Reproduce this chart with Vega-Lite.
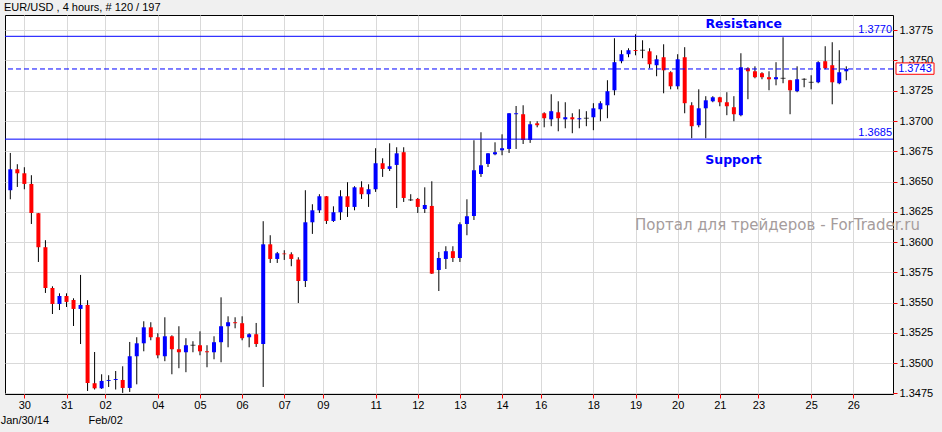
{
  "$schema": "https://vega.github.io/schema/vega-lite/v6.json",
  "width": 888,
  "height": 379,
  "autosize": {"type": "none"},
  "padding": {"left": 5, "top": 15, "right": 49, "bottom": 38},
  "background": "#f0f0f0",
  "title": {"text": "EUR/USD , 4 hours, # 120 / 197", "anchor": "start", "frame": "group", "font": "Liberation Sans", "fontSize": 11, "fontWeight": "normal", "color": "black", "offset": 2, "dx": -1},
  "datasets": {
    "candles": [
      {"i":0,"o":1.36428,"h":1.36736,"l":1.36353,"c":1.36601},
      {"i":1,"o":1.36601,"h":1.36643,"l":1.36455,"c":1.36568},
      {"i":2,"o":1.36568,"h":1.36618,"l":1.36436,"c":1.36480},
      {"i":3,"o":1.36480,"h":1.36552,"l":1.36149,"c":1.36240},
      {"i":4,"o":1.36238,"h":1.36240,"l":1.35835,"c":1.35957},
      {"i":5,"o":1.35957,"h":1.36015,"l":1.35579,"c":1.35620},
      {"i":6,"o":1.35620,"h":1.35634,"l":1.35405,"c":1.35488},
      {"i":7,"o":1.35488,"h":1.35576,"l":1.35438,"c":1.35554},
      {"i":8,"o":1.35554,"h":1.35576,"l":1.35463,"c":1.35505},
      {"i":9,"o":1.35521,"h":1.35535,"l":1.35306,"c":1.35447},
      {"i":10,"o":1.35447,"h":1.35728,"l":1.35157,"c":1.35480},
      {"i":11,"o":1.35480,"h":1.35519,"l":1.34769,"c":1.34835},
      {"i":12,"o":1.34833,"h":1.35091,"l":1.34781,"c":1.34791},
      {"i":13,"o":1.34791,"h":1.34907,"l":1.34786,"c":1.34852},
      {"i":14,"o":1.34852,"h":1.34899,"l":1.34802,"c":1.34860},
      {"i":15,"o":1.34860,"h":1.34934,"l":1.34781,"c":1.34868},
      {"i":16,"o":1.34860,"h":1.34973,"l":1.34753,"c":1.34794},
      {"i":17,"o":1.34794,"h":1.35174,"l":1.34761,"c":1.35056},
      {"i":18,"o":1.35056,"h":1.35213,"l":1.34824,"c":1.35163},
      {"i":19,"o":1.35163,"h":1.35345,"l":1.35097,"c":1.35295},
      {"i":20,"o":1.35295,"h":1.35337,"l":1.35188,"c":1.35213},
      {"i":21,"o":1.35213,"h":1.35246,"l":1.35039,"c":1.35064},
      {"i":22,"o":1.35056,"h":1.35378,"l":1.35015,"c":1.35221},
      {"i":23,"o":1.35221,"h":1.35229,"l":1.34907,"c":1.35114},
      {"i":24,"o":1.35114,"h":1.35304,"l":1.34957,"c":1.35089},
      {"i":25,"o":1.35089,"h":1.35205,"l":1.34924,"c":1.35147},
      {"i":26,"o":1.35147,"h":1.35180,"l":1.35089,"c":1.35147},
      {"i":27,"o":1.35147,"h":1.35262,"l":1.35064,"c":1.35097},
      {"i":28,"o":1.35097,"h":1.35147,"l":1.34965,"c":1.35089},
      {"i":29,"o":1.35089,"h":1.35221,"l":1.35031,"c":1.35172},
      {"i":30,"o":1.35172,"h":1.35543,"l":1.35006,"c":1.35304},
      {"i":31,"o":1.35304,"h":1.35386,"l":1.35130,"c":1.35337},
      {"i":32,"o":1.35337,"h":1.35378,"l":1.35287,"c":1.35329},
      {"i":33,"o":1.35329,"h":1.35386,"l":1.35188,"c":1.35205},
      {"i":34,"o":1.35213,"h":1.35246,"l":1.35130,"c":1.35238},
      {"i":35,"o":1.35238,"h":1.35331,"l":1.35133,"c":1.35157},
      {"i":36,"o":1.35157,"h":1.36172,"l":1.34802,"c":1.35981},
      {"i":37,"o":1.35981,"h":1.36056,"l":1.35827,"c":1.35860},
      {"i":38,"o":1.35860,"h":1.35918,"l":1.35827,"c":1.35907},
      {"i":39,"o":1.35905,"h":1.35932,"l":1.35852,"c":1.35899},
      {"i":40,"o":1.35899,"h":1.35915,"l":1.35800,"c":1.35860},
      {"i":41,"o":1.35855,"h":1.35874,"l":1.35496,"c":1.35678},
      {"i":42,"o":1.35678,"h":1.36428,"l":1.35628,"c":1.36163},
      {"i":43,"o":1.36163,"h":1.36312,"l":1.36067,"c":1.36262},
      {"i":44,"o":1.36262,"h":1.36395,"l":1.36240,"c":1.36378},
      {"i":45,"o":1.36378,"h":1.36380,"l":1.36149,"c":1.36174},
      {"i":46,"o":1.36174,"h":1.36295,"l":1.36166,"c":1.36246},
      {"i":47,"o":1.36246,"h":1.36428,"l":1.36182,"c":1.36378},
      {"i":48,"o":1.36378,"h":1.36494,"l":1.36207,"c":1.36290},
      {"i":49,"o":1.36290,"h":1.36461,"l":1.36262,"c":1.36452},
      {"i":50,"o":1.36452,"h":1.36502,"l":1.36356,"c":1.36395},
      {"i":51,"o":1.36395,"h":1.36477,"l":1.36290,"c":1.36436},
      {"i":52,"o":1.36436,"h":1.36775,"l":1.36414,"c":1.36651},
      {"i":53,"o":1.36651,"h":1.36692,"l":1.36538,"c":1.36604},
      {"i":54,"o":1.36604,"h":1.36816,"l":1.36587,"c":1.36626},
      {"i":55,"o":1.36637,"h":1.36783,"l":1.36281,"c":1.36733},
      {"i":56,"o":1.36742,"h":1.36783,"l":1.36331,"c":1.36364},
      {"i":57,"o":1.36348,"h":1.36395,"l":1.36339,"c":1.36348},
      {"i":58,"o":1.36356,"h":1.36364,"l":1.36240,"c":1.36290},
      {"i":59,"o":1.36273,"h":1.36452,"l":1.36240,"c":1.36306},
      {"i":60,"o":1.36298,"h":1.36502,"l":1.35736,"c":1.35739},
      {"i":61,"o":1.35769,"h":1.35918,"l":1.35595,"c":1.35868},
      {"i":62,"o":1.35860,"h":1.35965,"l":1.35777,"c":1.35924},
      {"i":63,"o":1.35924,"h":1.35965,"l":1.35835,"c":1.35868},
      {"i":64,"o":1.35868,"h":1.36163,"l":1.35835,"c":1.36147},
      {"i":65,"o":1.36149,"h":1.36353,"l":1.36056,"c":1.36213},
      {"i":66,"o":1.36215,"h":1.36841,"l":1.36182,"c":1.36593},
      {"i":67,"o":1.36562,"h":1.36907,"l":1.36538,"c":1.36634},
      {"i":68,"o":1.36645,"h":1.36735,"l":1.36620,"c":1.36733},
      {"i":69,"o":1.36725,"h":1.36824,"l":1.36717,"c":1.36742},
      {"i":70,"o":1.36758,"h":1.36890,"l":1.36717,"c":1.36775},
      {"i":71,"o":1.36769,"h":1.37066,"l":1.36736,"c":1.37064},
      {"i":72,"o":1.37056,"h":1.37124,"l":1.36769,"c":1.37064},
      {"i":73,"o":1.37056,"h":1.37130,"l":1.36810,"c":1.36843},
      {"i":74,"o":1.36843,"h":1.36998,"l":1.36819,"c":1.36973},
      {"i":75,"o":1.36981,"h":1.36998,"l":1.36948,"c":1.36965},
      {"i":76,"o":1.37064,"h":1.37072,"l":1.36948,"c":1.37023},
      {"i":77,"o":1.37014,"h":1.37221,"l":1.36957,"c":1.37081},
      {"i":78,"o":1.37072,"h":1.37163,"l":1.36915,"c":1.37023},
      {"i":79,"o":1.37014,"h":1.37155,"l":1.36940,"c":1.37031},
      {"i":80,"o":1.37031,"h":1.37064,"l":1.36899,"c":1.37014},
      {"i":81,"o":1.37014,"h":1.37097,"l":1.36940,"c":1.37023},
      {"i":82,"o":1.37023,"h":1.37081,"l":1.36957,"c":1.37023},
      {"i":83,"o":1.37031,"h":1.37147,"l":1.36924,"c":1.37105},
      {"i":84,"o":1.37097,"h":1.37163,"l":1.36998,"c":1.37147},
      {"i":85,"o":1.37130,"h":1.37337,"l":1.37023,"c":1.37246},
      {"i":86,"o":1.37254,"h":1.37684,"l":1.37213,"c":1.37486},
      {"i":87,"o":1.37494,"h":1.37585,"l":1.37477,"c":1.37552},
      {"i":88,"o":1.37552,"h":1.37601,"l":1.37527,"c":1.37585},
      {"i":89,"o":1.37587,"h":1.37717,"l":1.37543,"c":1.37579},
      {"i":90,"o":1.37585,"h":1.37667,"l":1.37519,"c":1.37585},
      {"i":91,"o":1.37576,"h":1.37601,"l":1.37436,"c":1.37469},
      {"i":92,"o":1.37461,"h":1.37543,"l":1.37370,"c":1.37510},
      {"i":93,"o":1.37527,"h":1.37634,"l":1.37229,"c":1.37419},
      {"i":94,"o":1.37403,"h":1.37411,"l":1.37262,"c":1.37287},
      {"i":95,"o":1.37287,"h":1.37552,"l":1.37262,"c":1.37510},
      {"i":96,"o":1.37527,"h":1.37610,"l":1.37064,"c":1.37147},
      {"i":97,"o":1.37130,"h":1.37155,"l":1.36857,"c":1.36957},
      {"i":98,"o":1.36965,"h":1.37262,"l":1.36948,"c":1.37105},
      {"i":99,"o":1.37105,"h":1.37205,"l":1.36857,"c":1.37171},
      {"i":100,"o":1.37163,"h":1.37205,"l":1.37155,"c":1.37196},
      {"i":101,"o":1.37196,"h":1.37200,"l":1.37122,"c":1.37155},
      {"i":102,"o":1.37155,"h":1.37238,"l":1.37048,"c":1.37122},
      {"i":103,"o":1.37114,"h":1.37205,"l":1.36998,"c":1.37056},
      {"i":104,"o":1.37048,"h":1.37560,"l":1.37039,"c":1.37444},
      {"i":105,"o":1.37436,"h":1.37444,"l":1.37180,"c":1.37411},
      {"i":106,"o":1.37411,"h":1.37452,"l":1.37353,"c":1.37362},
      {"i":107,"o":1.37395,"h":1.37403,"l":1.37345,"c":1.37362},
      {"i":108,"o":1.37362,"h":1.37411,"l":1.37254,"c":1.37345},
      {"i":109,"o":1.37345,"h":1.37486,"l":1.37295,"c":1.37362},
      {"i":110,"o":1.37353,"h":1.37692,"l":1.37312,"c":1.37353},
      {"i":111,"o":1.37337,"h":1.37340,"l":1.37056,"c":1.37254},
      {"i":112,"o":1.37246,"h":1.37452,"l":1.37238,"c":1.37345},
      {"i":113,"o":1.37345,"h":1.37353,"l":1.37279,"c":1.37345},
      {"i":114,"o":1.37320,"h":1.37378,"l":1.37262,"c":1.37320},
      {"i":115,"o":1.37320,"h":1.37494,"l":1.37312,"c":1.37486},
      {"i":116,"o":1.37494,"h":1.37618,"l":1.37428,"c":1.37436},
      {"i":117,"o":1.37461,"h":1.37651,"l":1.37138,"c":1.37320},
      {"i":118,"o":1.37312,"h":1.37585,"l":1.37304,"c":1.37403},
      {"i":119,"o":1.37411,"h":1.37452,"l":1.37337,"c":1.37430}
    ],
    "levels": [
      {"level": 1.3770, "name": "Resistance"},
      {"level": 1.3685, "name": "Support"}
    ],
    "last": [{"price": 1.3743}]
  },
  "layer": [
    {
      "data": {"name": "candles"},
      "mark": {"type": "rule", "color": "black", "strokeWidth": 1},
      "encoding": {
        "x": {"field": "i", "type": "quantitative",
          "scale": {"domain": [-0.7545, 125.651], "nice": false, "zero": false, "padding": 0},
          "axis": {"title": null, "values": [2, 8, 13.5, 21, 27, 33, 39, 44.5, 52, 58, 64, 70, 75.5, 83, 89, 95, 101, 106.5, 114, 120], "labelExpr": "datum.value == 2 ? ['30', 'Jan/30/14'] : datum.value == 13.5 ? ['02', 'Feb/02'] : ['30','31','02','04','05','06','07','09','11','12','13','14','16','18','19','20','21','23','25','26'][indexof([2, 8, 13.5, 21, 27, 33, 39, 44.5, 52, 58, 64, 70, 75.5, 83, 89, 95, 101, 106.5, 114, 120], datum.value)]", "labelLineHeight": 15, "labelPadding": 1, "labelOverlap": false, "labelFlush": false, "labelBound": false}},
        "y": {"field": "l", "type": "quantitative",
          "scale": {"domain": [1.34744, 1.37876], "nice": false, "zero": false, "padding": 0},
          "axis": {"title": null, "orient": "right", "values": [1.3475, 1.35, 1.3525, 1.355, 1.3575, 1.36, 1.3625, 1.365, 1.3675, 1.37, 1.3725, 1.375, 1.3775], "format": ".4f", "labelPadding": 2, "labelOverlap": false, "labelFlush": false, "labelBound": false}},
        "y2": {"field": "h"}
      }
    },
    {
      "data": {"name": "candles"},
      "mark": {"type": "bar", "width": 4},
      "encoding": {
        "x": {"field": "i", "type": "quantitative",
          "scale": {"domain": [-0.7545, 125.651], "nice": false, "zero": false, "padding": 0},
          "axis": {"title": null, "values": [2, 8, 13.5, 21, 27, 33, 39, 44.5, 52, 58, 64, 70, 75.5, 83, 89, 95, 101, 106.5, 114, 120], "labelExpr": "datum.value == 2 ? ['30', 'Jan/30/14'] : datum.value == 13.5 ? ['02', 'Feb/02'] : ['30','31','02','04','05','06','07','09','11','12','13','14','16','18','19','20','21','23','25','26'][indexof([2, 8, 13.5, 21, 27, 33, 39, 44.5, 52, 58, 64, 70, 75.5, 83, 89, 95, 101, 106.5, 114, 120], datum.value)]", "labelLineHeight": 15, "labelPadding": 1, "labelOverlap": false, "labelFlush": false, "labelBound": false}},
        "y": {"field": "o", "type": "quantitative",
          "scale": {"domain": [1.34744, 1.37876], "nice": false, "zero": false, "padding": 0},
          "axis": {"title": null, "orient": "right", "values": [1.3475, 1.35, 1.3525, 1.355, 1.3575, 1.36, 1.3625, 1.365, 1.3675, 1.37, 1.3725, 1.375, 1.3775], "format": ".4f", "labelPadding": 2, "labelOverlap": false, "labelFlush": false, "labelBound": false}},
        "y2": {"field": "c"},
        "color": {"condition": [{"test": "datum.c > datum.o", "value": "#0000ff"}, {"test": "datum.c < datum.o", "value": "#ff0000"}], "value": "black"}
      }
    },
    {
      "data": {"name": "candles"},
      "transform": [{"filter": "datum.o == datum.c"}],
      "mark": {"type": "tick", "orient": "horizontal", "size": 5, "thickness": 1, "color": "black"},
      "encoding": {
        "x": {"field": "i", "type": "quantitative",
          "scale": {"domain": [-0.7545, 125.651], "nice": false, "zero": false, "padding": 0},
          "axis": {"title": null, "values": [2, 8, 13.5, 21, 27, 33, 39, 44.5, 52, 58, 64, 70, 75.5, 83, 89, 95, 101, 106.5, 114, 120], "labelExpr": "datum.value == 2 ? ['30', 'Jan/30/14'] : datum.value == 13.5 ? ['02', 'Feb/02'] : ['30','31','02','04','05','06','07','09','11','12','13','14','16','18','19','20','21','23','25','26'][indexof([2, 8, 13.5, 21, 27, 33, 39, 44.5, 52, 58, 64, 70, 75.5, 83, 89, 95, 101, 106.5, 114, 120], datum.value)]", "labelLineHeight": 15, "labelPadding": 1, "labelOverlap": false, "labelFlush": false, "labelBound": false}},
        "y": {"field": "o", "type": "quantitative",
          "scale": {"domain": [1.34744, 1.37876], "nice": false, "zero": false, "padding": 0},
          "axis": {"title": null, "orient": "right", "values": [1.3475, 1.35, 1.3525, 1.355, 1.3575, 1.36, 1.3625, 1.365, 1.3675, 1.37, 1.3725, 1.375, 1.3775], "format": ".4f", "labelPadding": 2, "labelOverlap": false, "labelFlush": false, "labelBound": false}}
      }
    },
    {
      "data": {"name": "levels"},
      "mark": {"type": "rule", "color": "#0000ff", "strokeWidth": 1},
      "encoding": {
        "y": {"field": "level", "type": "quantitative",
          "scale": {"domain": [1.34744, 1.37876], "nice": false, "zero": false, "padding": 0},
          "axis": {"title": null, "orient": "right", "values": [1.3475, 1.35, 1.3525, 1.355, 1.3575, 1.36, 1.3625, 1.365, 1.3675, 1.37, 1.3725, 1.375, 1.3775], "format": ".4f", "labelPadding": 2, "labelOverlap": false, "labelFlush": false, "labelBound": false}}
      }
    },
    {
      "data": {"name": "levels"},
      "mark": {"type": "text", "color": "#0000ff", "align": "right", "baseline": "bottom", "dy": -1, "font": "Liberation Sans", "fontSize": 11},
      "encoding": {
        "x": {"datum": 125.51, "type": "quantitative",
          "scale": {"domain": [-0.7545, 125.651], "nice": false, "zero": false, "padding": 0},
          "axis": {"title": null, "values": [2, 8, 13.5, 21, 27, 33, 39, 44.5, 52, 58, 64, 70, 75.5, 83, 89, 95, 101, 106.5, 114, 120], "labelExpr": "datum.value == 2 ? ['30', 'Jan/30/14'] : datum.value == 13.5 ? ['02', 'Feb/02'] : ['30','31','02','04','05','06','07','09','11','12','13','14','16','18','19','20','21','23','25','26'][indexof([2, 8, 13.5, 21, 27, 33, 39, 44.5, 52, 58, 64, 70, 75.5, 83, 89, 95, 101, 106.5, 114, 120], datum.value)]", "labelLineHeight": 15, "labelPadding": 1, "labelOverlap": false, "labelFlush": false, "labelBound": false}},
        "y": {"field": "level", "type": "quantitative",
          "scale": {"domain": [1.34744, 1.37876], "nice": false, "zero": false, "padding": 0},
          "axis": {"title": null, "orient": "right", "values": [1.3475, 1.35, 1.3525, 1.355, 1.3575, 1.36, 1.3625, 1.365, 1.3675, 1.37, 1.3725, 1.375, 1.3775], "format": ".4f", "labelPadding": 2, "labelOverlap": false, "labelFlush": false, "labelBound": false}},
        "text": {"field": "level", "type": "quantitative", "format": ".4f"}
      }
    },
    {
      "data": {"name": "levels"},
      "transform": [{"filter": "datum.name == 'Resistance'"}],
      "mark": {"type": "text", "color": "#0000ff", "align": "center", "baseline": "middle", "font": "DejaVu Sans", "fontSize": 12.5, "fontWeight": "bold"},
      "encoding": {
        "x": {"datum": 104.4, "type": "quantitative",
          "scale": {"domain": [-0.7545, 125.651], "nice": false, "zero": false, "padding": 0},
          "axis": {"title": null, "values": [2, 8, 13.5, 21, 27, 33, 39, 44.5, 52, 58, 64, 70, 75.5, 83, 89, 95, 101, 106.5, 114, 120], "labelExpr": "datum.value == 2 ? ['30', 'Jan/30/14'] : datum.value == 13.5 ? ['02', 'Feb/02'] : ['30','31','02','04','05','06','07','09','11','12','13','14','16','18','19','20','21','23','25','26'][indexof([2, 8, 13.5, 21, 27, 33, 39, 44.5, 52, 58, 64, 70, 75.5, 83, 89, 95, 101, 106.5, 114, 120], datum.value)]", "labelLineHeight": 15, "labelPadding": 1, "labelOverlap": false, "labelFlush": false, "labelBound": false}},
        "y": {"datum": 1.3780, "type": "quantitative",
          "scale": {"domain": [1.34744, 1.37876], "nice": false, "zero": false, "padding": 0},
          "axis": {"title": null, "orient": "right", "values": [1.3475, 1.35, 1.3525, 1.355, 1.3575, 1.36, 1.3625, 1.365, 1.3675, 1.37, 1.3725, 1.375, 1.3775], "format": ".4f", "labelPadding": 2, "labelOverlap": false, "labelFlush": false, "labelBound": false}},
        "text": {"field": "name", "type": "nominal"}
      }
    },
    {
      "data": {"name": "levels"},
      "transform": [{"filter": "datum.name == 'Support'"}],
      "mark": {"type": "text", "color": "#0000ff", "align": "center", "baseline": "middle", "font": "DejaVu Sans", "fontSize": 12.5, "fontWeight": "bold"},
      "encoding": {
        "x": {"datum": 102.95, "type": "quantitative",
          "scale": {"domain": [-0.7545, 125.651], "nice": false, "zero": false, "padding": 0},
          "axis": {"title": null, "values": [2, 8, 13.5, 21, 27, 33, 39, 44.5, 52, 58, 64, 70, 75.5, 83, 89, 95, 101, 106.5, 114, 120], "labelExpr": "datum.value == 2 ? ['30', 'Jan/30/14'] : datum.value == 13.5 ? ['02', 'Feb/02'] : ['30','31','02','04','05','06','07','09','11','12','13','14','16','18','19','20','21','23','25','26'][indexof([2, 8, 13.5, 21, 27, 33, 39, 44.5, 52, 58, 64, 70, 75.5, 83, 89, 95, 101, 106.5, 114, 120], datum.value)]", "labelLineHeight": 15, "labelPadding": 1, "labelOverlap": false, "labelFlush": false, "labelBound": false}},
        "y": {"datum": 1.36676, "type": "quantitative",
          "scale": {"domain": [1.34744, 1.37876], "nice": false, "zero": false, "padding": 0},
          "axis": {"title": null, "orient": "right", "values": [1.3475, 1.35, 1.3525, 1.355, 1.3575, 1.36, 1.3625, 1.365, 1.3675, 1.37, 1.3725, 1.375, 1.3775], "format": ".4f", "labelPadding": 2, "labelOverlap": false, "labelFlush": false, "labelBound": false}},
        "text": {"field": "name", "type": "nominal"}
      }
    },
    {
      "data": {"name": "last"},
      "mark": {"type": "rule", "color": "#0000ff", "strokeWidth": 1, "strokeDash": [5, 3]},
      "encoding": {
        "y": {"field": "price", "type": "quantitative",
          "scale": {"domain": [1.34744, 1.37876], "nice": false, "zero": false, "padding": 0},
          "axis": {"title": null, "orient": "right", "values": [1.3475, 1.35, 1.3525, 1.355, 1.3575, 1.36, 1.3625, 1.365, 1.3675, 1.37, 1.3725, 1.375, 1.3775], "format": ".4f", "labelPadding": 2, "labelOverlap": false, "labelFlush": false, "labelBound": false}}
      }
    },
    {
      "data": {"name": "last"},
      "mark": {"type": "rect", "fill": "white", "stroke": "#ff0000", "strokeWidth": 1},
      "encoding": {
        "x": {"datum": 126.08, "type": "quantitative",
          "scale": {"domain": [-0.7545, 125.651], "nice": false, "zero": false, "padding": 0},
          "axis": {"title": null, "values": [2, 8, 13.5, 21, 27, 33, 39, 44.5, 52, 58, 64, 70, 75.5, 83, 89, 95, 101, 106.5, 114, 120], "labelExpr": "datum.value == 2 ? ['30', 'Jan/30/14'] : datum.value == 13.5 ? ['02', 'Feb/02'] : ['30','31','02','04','05','06','07','09','11','12','13','14','16','18','19','20','21','23','25','26'][indexof([2, 8, 13.5, 21, 27, 33, 39, 44.5, 52, 58, 64, 70, 75.5, 83, 89, 95, 101, 106.5, 114, 120], datum.value)]", "labelLineHeight": 15, "labelPadding": 1, "labelOverlap": false, "labelFlush": false, "labelBound": false}},
        "x2": {"datum": 131.49},
        "y": {"datum": 1.3748, "type": "quantitative",
          "scale": {"domain": [1.34744, 1.37876], "nice": false, "zero": false, "padding": 0},
          "axis": {"title": null, "orient": "right", "values": [1.3475, 1.35, 1.3525, 1.355, 1.3575, 1.36, 1.3625, 1.365, 1.3675, 1.37, 1.3725, 1.375, 1.3775], "format": ".4f", "labelPadding": 2, "labelOverlap": false, "labelFlush": false, "labelBound": false}},
        "y2": {"datum": 1.37386}
      }
    },
    {
      "data": {"name": "last"},
      "mark": {"type": "text", "color": "#0000ff", "align": "center", "baseline": "middle", "font": "Liberation Sans", "fontSize": 11},
      "encoding": {
        "x": {"datum": 128.78, "type": "quantitative",
          "scale": {"domain": [-0.7545, 125.651], "nice": false, "zero": false, "padding": 0},
          "axis": {"title": null, "values": [2, 8, 13.5, 21, 27, 33, 39, 44.5, 52, 58, 64, 70, 75.5, 83, 89, 95, 101, 106.5, 114, 120], "labelExpr": "datum.value == 2 ? ['30', 'Jan/30/14'] : datum.value == 13.5 ? ['02', 'Feb/02'] : ['30','31','02','04','05','06','07','09','11','12','13','14','16','18','19','20','21','23','25','26'][indexof([2, 8, 13.5, 21, 27, 33, 39, 44.5, 52, 58, 64, 70, 75.5, 83, 89, 95, 101, 106.5, 114, 120], datum.value)]", "labelLineHeight": 15, "labelPadding": 1, "labelOverlap": false, "labelFlush": false, "labelBound": false}},
        "y": {"field": "price", "type": "quantitative",
          "scale": {"domain": [1.34744, 1.37876], "nice": false, "zero": false, "padding": 0},
          "axis": {"title": null, "orient": "right", "values": [1.3475, 1.35, 1.3525, 1.355, 1.3575, 1.36, 1.3625, 1.365, 1.3675, 1.37, 1.3725, 1.375, 1.3775], "format": ".4f", "labelPadding": 2, "labelOverlap": false, "labelFlush": false, "labelBound": false}},
        "text": {"field": "price", "type": "quantitative", "format": ".4f"}
      }
    },
    {
      "data": {"values": [{"t": "Портал для трейдеров - ForTrader.ru"}]},
      "mark": {"type": "text", "color": "#a59c9c", "align": "center", "baseline": "middle", "font": "DejaVu Sans", "fontSize": 15},
      "encoding": {
        "x": {"datum": 109.21, "type": "quantitative",
          "scale": {"domain": [-0.7545, 125.651], "nice": false, "zero": false, "padding": 0},
          "axis": {"title": null, "values": [2, 8, 13.5, 21, 27, 33, 39, 44.5, 52, 58, 64, 70, 75.5, 83, 89, 95, 101, 106.5, 114, 120], "labelExpr": "datum.value == 2 ? ['30', 'Jan/30/14'] : datum.value == 13.5 ? ['02', 'Feb/02'] : ['30','31','02','04','05','06','07','09','11','12','13','14','16','18','19','20','21','23','25','26'][indexof([2, 8, 13.5, 21, 27, 33, 39, 44.5, 52, 58, 64, 70, 75.5, 83, 89, 95, 101, 106.5, 114, 120], datum.value)]", "labelLineHeight": 15, "labelPadding": 1, "labelOverlap": false, "labelFlush": false, "labelBound": false}},
        "y": {"datum": 1.36143, "type": "quantitative",
          "scale": {"domain": [1.34744, 1.37876], "nice": false, "zero": false, "padding": 0},
          "axis": {"title": null, "orient": "right", "values": [1.3475, 1.35, 1.3525, 1.355, 1.3575, 1.36, 1.3625, 1.365, 1.3675, 1.37, 1.3725, 1.375, 1.3775], "format": ".4f", "labelPadding": 2, "labelOverlap": false, "labelFlush": false, "labelBound": false}},
        "text": {"field": "t", "type": "nominal"}
      }
    }
  ],
  "config": {
    "view": {"fill": "white", "stroke": "black", "strokeWidth": 1},
    "axis": {
      "tickSize": 4,
      "tickColor": "#ff0000",
      "grid": true,
      "gridColor": "#d9d9d9",
      "domain": false,
      "labelFont": "Liberation Sans",
      "labelFontSize": 11,
      "labelColor": "black"
    }
  }
}
